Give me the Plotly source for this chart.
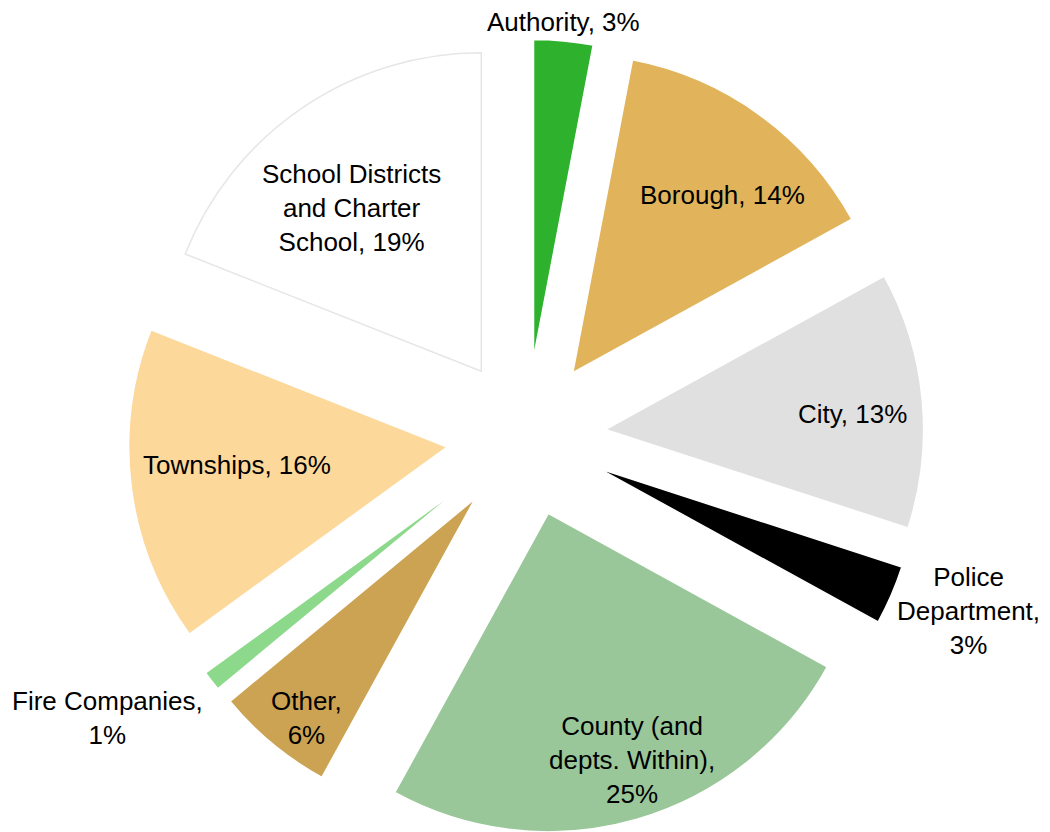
import plotly.graph_objects as go

labels = ["Authority", "Borough", "City", "Police Department", "County (and depts. Within)",
          "Other", "Fire Companies", "Townships", "School Districts and Charter School"]
values = [3, 14, 13, 3, 25, 6, 1, 16, 19]
colors = ["#2EB22E", "#E1B45B", "#E0E0E0", "#000000", "#99C799",
          "#CCA352", "#8CD98C", "#FDD89B", "#FFFFFF"]
line_colors = ["#FFFFFF"] * 8 + ["#E6E6E6"]
# wrapped label text as shown on the chart
label_text = ["Authority, {v}%", "Borough, {v}%", "City, {v}%",
              "Police<br>Department,<br>{v}%", "County (and<br>depts. Within),<br>{v}%",
              "Other,<br>{v}%", "Fire Companies,<br>{v}%", "Townships, {v}%",
              "School Districts<br>and Charter<br>School, {v}%"]
# label centres in page pixels (x, y from top)
label_pos = [(563, 22), (722, 195), (852, 414), (968, 611), (632, 760),
             (306, 718), (107, 718), (237, 465), (351, 208)]

W, H = 1050, 832
OFF = 8  # page body margin in front of the figure

fig = go.Figure(go.Pie(
    labels=labels, values=values, textinfo="none",
    sort=False, direction="clockwise", rotation=0,
    pull=[0.25] * len(values),
    marker=dict(colors=colors, line=dict(color=line_colors, width=1.5)),
    domain=dict(x=[0.1143, 0.8724], y=[0.0060, 0.9627]),
    showlegend=False, hoverinfo="label+percent",
))
for t, v, (px, py) in zip(label_text, values, label_pos):
    fig.add_annotation(text=t.format(v=v), x=(px - OFF) / W, y=1 - (py - OFF) / H,
                       xref="paper", yref="paper", xanchor="center", yanchor="middle",
                       showarrow=False, align="center",
                       font=dict(family="Liberation Sans, Arial, sans-serif", size=26, color="#000000"))
fig.update_layout(width=W, height=H, margin=dict(l=0, r=0, t=0, b=0),
                  paper_bgcolor="white", plot_bgcolor="white", showlegend=False)
fig.write_html("out.html")
